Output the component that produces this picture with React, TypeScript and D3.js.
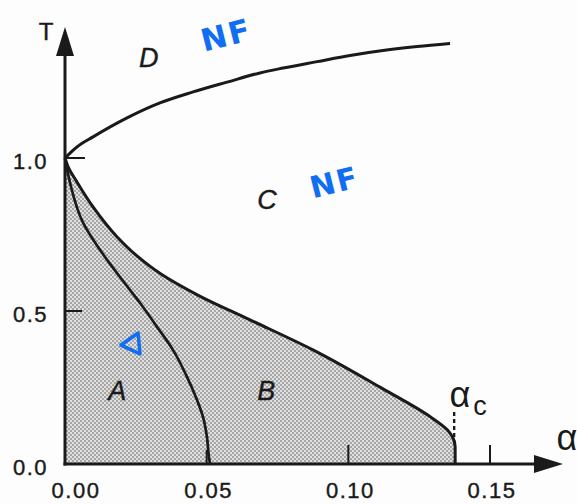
import React from "react";
import * as d3 from "d3";

// Phase boundary T(alpha) between D and C
const upperAlpha = [0, 0.0042, 0.0099, 0.0219, 0.0335, 0.0452, 0.0572, 0.0688, 0.077, 0.089, 0.1006, 0.1122, 0.1243, 0.1359];
const upperT = [1.0, 1.036, 1.069, 1.131, 1.18, 1.216, 1.248, 1.278, 1.294, 1.315, 1.335, 1.351, 1.364, 1.374];

// Boundary between C and the shaded region (B)
const cbAlpha = [0, 0.0011, 0.0042, 0.0099, 0.0184, 0.0254, 0.034, 0.0477, 0.0653, 0.0875, 0.111, 0.129, 0.135, 0.1377, 0.1377];
const cbT = [1.0, 0.971, 0.922, 0.84, 0.742, 0.68, 0.62, 0.548, 0.471, 0.373, 0.252, 0.154, 0.111, 0.056, 0.0];

// Boundary between A and B
const abAlpha = [0, 0.0018, 0.0064, 0.0124, 0.0194, 0.0265, 0.0325, 0.0381, 0.0431, 0.0466, 0.0487, 0.0501, 0.0508, 0.0512];
const abT = [1.0, 0.918, 0.788, 0.699, 0.611, 0.526, 0.448, 0.373, 0.284, 0.209, 0.154, 0.088, 0.023, 0.0];

const xTicks = [0.0, 0.05, 0.1, 0.15];
const xTickLabels = ["0.00", "0.05", "0.10", "0.15"];
const yTicks = [0.0, 0.5, 1.0];
const yTickLabels = ["0.0", "0.5", "1.0"];
const alphaC = 0.1377;

const regionLabels = ["D", "C", "A", "B"];
const regionAlpha = [0.0296, 0.0713, 0.0184, 0.071];
const regionT = [1.33, 0.866, 0.242, 0.242];

export default function App() {
  const W = 577, H = 504;
  const x = d3.scaleLinear().domain([0, 0.15]).range([65, 490]);
  const y = d3.scaleLinear().domain([0, 1]).range([464, 158]);
  const font = "'Liberation Sans', Arial, Helvetica, sans-serif";
  const ink = "#1a1a1a";

  const lineX = d3.line<[number, number]>().x((d) => x(d[0])).y((d) => y(d[1])).curve(d3.curveMonotoneX);
  const lineY = d3.line<[number, number]>().x((d) => x(d[0])).y((d) => y(d[1])).curve(d3.curveMonotoneY);

  const upper = upperAlpha.map((a, i) => [a, upperT[i]] as [number, number]);
  const cb = cbAlpha.map((a, i) => [a, cbT[i]] as [number, number]);
  const ab = abAlpha.map((a, i) => [a, abT[i]] as [number, number]);

  const cbPath = lineY(cb) || "";
  const fillPath = `M${x(0)},${y(0)}L` + cbPath.slice(1) + "Z";

  const x0 = x(0), yAxisY = y(0);
  const triangle = d3.symbol().type(d3.symbolTriangle).size(190)() || "";

  return (
    <svg width={W} height={H} style={{ position: "absolute", left: 0, top: 0, background: "#fdfdfd" }}>
      <defs>
        <pattern id="stip" width="4" height="4" patternUnits="userSpaceOnUse">
          <rect width="4" height="4" fill="#e0e0e0" />
          <rect width="2" height="2" fill="#a6a6a6" />
          <rect x="2" y="2" width="2" height="2" fill="#a6a6a6" />
        </pattern>
      </defs>
      <path d={fillPath} fill="url(#stip)" stroke="none" />

      {/* curves */}
      <path d={lineX(upper) || ""} fill="none" stroke={ink} strokeWidth={3} />
      <path d={cbPath} fill="none" stroke={ink} strokeWidth={3} />
      <path d={lineY(ab) || ""} fill="none" stroke={ink} strokeWidth={2.7} />

      {/* alpha_c dotted marker */}
      <line x1={x(alphaC) - 1} x2={x(alphaC) - 1} y1={412} y2={446} stroke={ink} strokeWidth={2.4} strokeDasharray="4,3" />

      {/* axes */}
      <line x1={x0} x2={x0} y1={yAxisY + 1.5} y2={50} stroke={ink} strokeWidth={3} />
      <path d={`M${x0},27L${x0 - 9},56L${x0 + 9},56Z`} fill={ink} />
      <line x1={x0 - 1.5} x2={540} y1={yAxisY} y2={yAxisY} stroke={ink} strokeWidth={3} />
      <path d={`M563,${yAxisY}L534,${yAxisY - 9}L534,${yAxisY + 9}Z`} fill={ink} />

      {/* y ticks */}
      {yTicks.map((t, i) => (
        <g key={"y" + i}>
          {t > 0 && <line x1={x0} x2={x0 + (t === 1 ? 20 : 17)} y1={y(t)} y2={y(t)} stroke={ink} strokeWidth={2} />}
          <text x={48} y={y(t) + 11} textAnchor="end" fontFamily={font} fontSize={22} letterSpacing={1.5} fill={ink} stroke={ink} strokeWidth={0.4}>
            {yTickLabels[i]}
          </text>
        </g>
      ))}
      {/* x ticks */}
      {xTicks.map((t, i) => (
        <g key={"x" + i}>
          {t > 0 && <line x1={x(t)} x2={x(t)} y1={yAxisY} y2={yAxisY - (t === 0.05 ? 14 : 19)} stroke={ink} strokeWidth={2} />}
          <text x={x(t) + (t === 0 ? 11 : 2)} y={498} textAnchor="middle" fontFamily={font} fontSize={22} letterSpacing={1.5} fill={ink} stroke={ink} strokeWidth={0.4}>
            {xTickLabels[i]}
          </text>
        </g>
      ))}

      {/* axis labels */}
      <text x={46} y={40} textAnchor="middle" fontFamily={font} fontSize={24} fill={ink} stroke={ink} strokeWidth={0.4}>T</text>
      <text x={567} y={450} textAnchor="middle" fontFamily={font} fontSize={36} fill={ink}>α</text>
      <text x={460} y={407} textAnchor="middle" fontFamily={font} fontSize={36} fill={ink}>α</text>
      <text x={480} y={415} textAnchor="middle" fontFamily={font} fontSize={27} fill={ink}>c</text>

      {/* region labels */}
      {regionLabels.map((l, i) => (
        <text key={l} x={x(regionAlpha[i])} y={y(regionT[i]) + 10} textAnchor="middle" fontFamily={font} fontStyle="italic" fontSize={27} fill={ink} stroke={ink} strokeWidth={0.4}>
          {l}
        </text>
      ))}

      {/* handwritten annotations */}
      <text x={226} y={46} textAnchor="middle" fontFamily="'DejaVu Sans', sans-serif" fontWeight="bold" fontSize={31} fill="#0f6ef2" transform="rotate(-14,226,34)" letterSpacing={2}>NF</text>
      <text x={334} y={193} textAnchor="middle" fontFamily="'DejaVu Sans', sans-serif" fontWeight="bold" fontSize={30} fill="#0f6ef2" transform="rotate(-14,334,180)" letterSpacing={2}>NF</text>
      <path d={triangle} transform="translate(133,344) rotate(25)" fill="none" stroke="#0f6ef2" strokeWidth={3.5} strokeLinejoin="round" />
    </svg>
  );
}
